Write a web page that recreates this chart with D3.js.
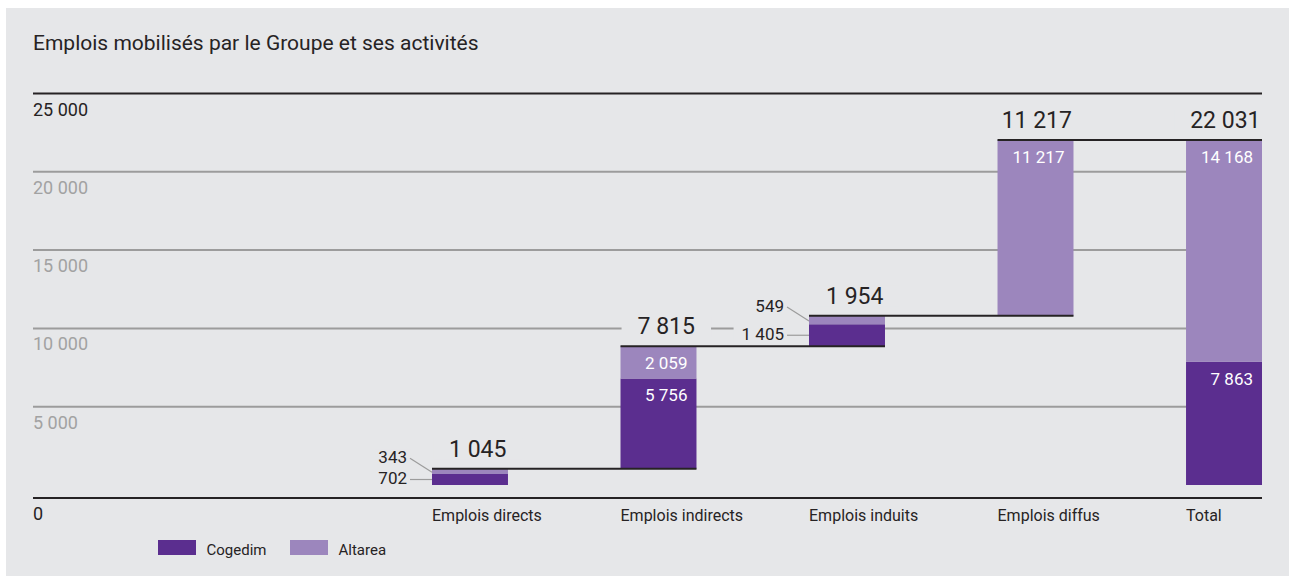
<!DOCTYPE html>
<html><head><meta charset="utf-8">
<script src="https://cdn.jsdelivr.net/npm/d3@7/dist/d3.min.js"></script>
<style>
html,body{margin:0;padding:0;background:#fff;}
svg{display:block;font-family:Roboto,"Noto Sans",sans-serif;}
</style></head>
<body>
<svg id="c" width="1289" height="576"></svg>
<script>
const categories = ["Emplois directs","Emplois indirects","Emplois induits","Emplois diffus","Total"];
const cogedim = [702, 5756, 1405, 0, 7863];
const altarea = [343, 2059, 549, 11217, 14168];
const totals  = [1045, 7815, 1954, 11217, 22031];
const yTicks  = [0, 5000, 10000, 15000, 20000, 25000];
const seriesNames = ["Cogedim","Altarea"];
const title = "Emplois mobilisés par le Groupe et ses activités";

const BG = "#e6e7e9", DARK = "#5b2e8f", LIGHT = "#9c86bd", INK = "#262324", GRID = "#9c9c9c";
const fmt = d3.formatLocale({decimal:",",thousands:" ",grouping:[3],currency:["","€"]}).format(",d");

const svg = d3.select("#c");
svg.append("rect").attr("x",6).attr("y",8).attr("width",1283).attr("height",568).attr("fill",BG);

svg.append("text").attr("x",33).attr("y",50).attr("font-size",21).attr("fill",INK).text(title);

const x = d3.scaleBand().domain(categories).range([432,1262]).paddingInner(0.597).paddingOuter(0);
const y = d3.scaleLinear().domain([0,25000]).range([485,93.5]);
const left = 33, right = 1262;

// bases of waterfall
const bases = [];
let acc = 0;
categories.forEach((c,i)=>{ if(c==="Total"){bases.push(0);} else {bases.push(acc); acc += totals[i];} });

// gridlines and tick labels
const g = svg.append("g");
yTicks.forEach(t=>{
  const yy = t===0 ? y(0)+13 : y(t);
  const strong = (t===0 || t===25000);
  g.append("line").attr("x1",left).attr("x2",right).attr("y1",yy).attr("y2",yy)
    .attr("stroke",strong?INK:GRID).attr("stroke-width",2);
  g.append("text").attr("x",left).attr("y",yy+22).attr("font-size",18)
    .attr("fill",strong?INK:"#a2a2a2").text(fmt(t));
});

const knock = svg.append("g");
const bars = svg.append("g");
const lines = svg.append("g");
const labels = svg.append("g");

categories.forEach((c,i)=>{
  const x0 = x(c), bw = x.bandwidth();
  const b = bases[i];
  const cTop = b + cogedim[i], aTop = cTop + altarea[i];
  if(cogedim[i]>0) bars.append("rect").attr("x",x0).attr("width",bw)
      .attr("y",y(cTop)).attr("height",y(b)-y(cTop)).attr("fill",DARK);
  if(altarea[i]>0) bars.append("rect").attr("x",x0).attr("width",bw)
      .attr("y",y(aTop)).attr("height",y(cTop)-y(aTop)).attr("fill",LIGHT);

  // connector
  if(i<categories.length-1){
    const nx = x(categories[i+1]) + bw;
    lines.append("line").attr("x1",x0).attr("x2",nx).attr("y1",y(aTop)).attr("y2",y(aTop))
      .attr("stroke",INK).attr("stroke-width",2);
  }

  // total label
  const tl = labels.append("text").attr("x",x0+bw-1.5).attr("y",y(aTop)-12)
    .attr("text-anchor","end").attr("font-size",23).attr("fill",INK).text(fmt(totals[i]));
  const bb = tl.node().getBBox();
  knock.append("rect").attr("x",bb.x-16).attr("y",bb.y+3).attr("width",bb.width+32).attr("height",bb.height-6).attr("fill",BG);

  // segment labels
  const cH = y(b)-y(cTop), aH = y(cTop)-y(aTop);
  const small = (cogedim[i]>0 && cH<25) || (altarea[i]>0 && aH<25);
  if(small){
    const cMid = (y(b)+y(cTop))/2, aMid = (y(cTop)+y(aTop))/2;
    const lx = x0-25;
    const t1 = labels.append("text").attr("x",lx).attr("y",cMid+4.5).attr("text-anchor","end")
      .attr("font-size",17).attr("fill",INK).text(fmt(cogedim[i]));
    const b1 = t1.node().getBBox();
    knock.append("rect").attr("x",b1.x-8).attr("y",b1.y+2).attr("width",x0-(b1.x-8)).attr("height",b1.height-3).attr("fill",BG);
    lines.append("line").attr("x1",x0-22).attr("x2",x0).attr("y1",cMid).attr("y2",cMid)
      .attr("stroke",GRID).attr("stroke-width",1.2);
    const t2 = labels.append("text").attr("x",lx).attr("y",aMid-8).attr("text-anchor","end")
      .attr("font-size",17).attr("fill",INK).text(fmt(altarea[i]));
    const b2 = t2.node().getBBox();
    knock.append("rect").attr("x",b2.x-4).attr("y",b2.y+2).attr("width",b2.width+8).attr("height",b2.height-3).attr("fill",BG);
    lines.append("line").attr("x1",x0-22).attr("x2",x0).attr("y1",aMid-13).attr("y2",aMid+1)
      .attr("stroke",GRID).attr("stroke-width",1.2);
  } else {
    if(cogedim[i]>0) labels.append("text").attr("x",x0+bw-9).attr("y",y(cTop)+23).attr("text-anchor","end")
      .attr("font-size",17).attr("fill","#fff").text(fmt(cogedim[i]));
    if(altarea[i]>0) labels.append("text").attr("x",x0+bw-9).attr("y",y(aTop)+23).attr("text-anchor","end")
      .attr("font-size",17).attr("fill","#fff").text(fmt(altarea[i]));
  }

  // category label
  labels.append("text").attr("x",x0).attr("y",521).attr("font-size",16).attr("fill",INK).text(c);
});

// legend
const legColors = [DARK, LIGHT];
const legX = [158, 290];
seriesNames.forEach((s,i)=>{
  svg.append("rect").attr("x",legX[i]).attr("y",540).attr("width",38).attr("height",15).attr("fill",legColors[i]);
  svg.append("text").attr("x",legX[i]+48.5).attr("y",555).attr("font-size",15).attr("fill",INK).text(s);
});
</script>
</body></html>
